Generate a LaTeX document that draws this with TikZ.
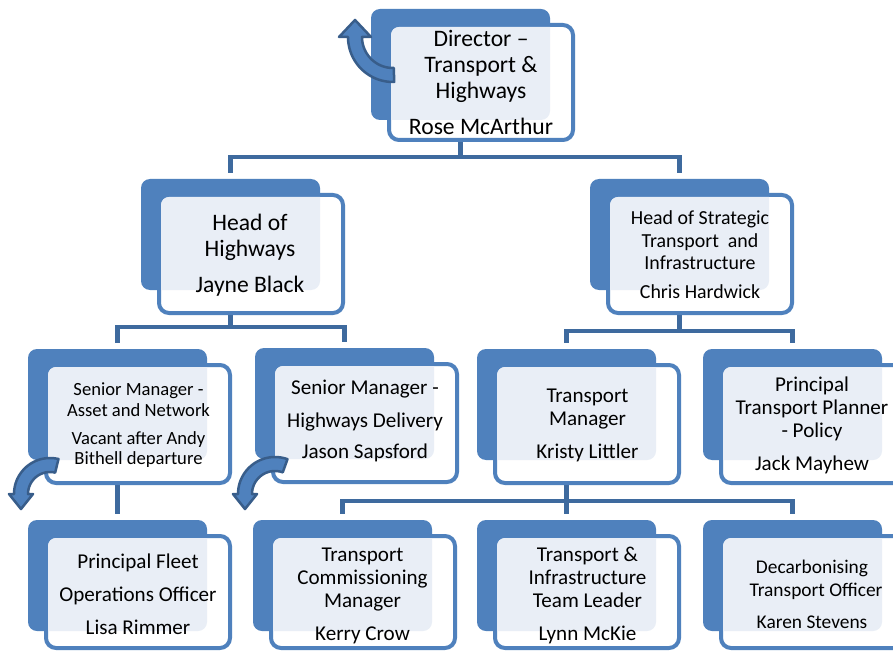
\documentclass[tikz,border=0pt]{standalone}
\usepackage{fontspec}
\setmainfont{Carlito}
\usetikzlibrary{calc,backgrounds}
\definecolor{bblue}{RGB}{79,129,189}
\definecolor{darkb}{RGB}{56,93,138}
\definecolor{connc}{RGB}{62,106,158}
\definecolor{lightc}{RGB}{233,238,246}
\newcommand\orgbox[4]{%
  \node[backbox] (#1b) at ({#2+89.5},{#3+55.5}) {};
  \node[frontbox, minimum height=#4pt] (#1) at ({#2+110},{#3+16+#4/2}) {};
  \begin{scope}
    \clip[rounded corners=9pt] (#2,#3) rectangle ({#2+179},{#3+111});
    \fill[lightc, rounded corners=8pt] ({#2+20},{#3+18}) rectangle ({#2+200},{#3+14+#4});
  \end{scope}}
\newcommand\carrow[8]{%
  \pgfmathsetmacro\myRo{#3+#6}%
  \pgfmathsetmacro\myRi{#3-#6}%
  \pgfmathsetmacro\myHo{#3+#7}%
  \pgfmathsetmacro\myHi{#3-#7}%
  \pgfmathsetmacro\myT{#5+90*sign(#5-#4)}%
  \filldraw[arrowst] plot[domain=#4:#5, samples=30] ({#1+\myRo*cos(\x)},{#2+\myRo*sin(\x)})
    -- ({#1+\myHo*cos(#5)},{#2+\myHo*sin(#5)})
    -- ({#1+#3*cos(#5)+#8*cos(\myT)},{#2+#3*sin(#5)+#8*sin(\myT)})
    -- ({#1+\myHi*cos(#5)},{#2+\myHi*sin(#5)})
    -- plot[domain=#5:#4, samples=30] ({#1+\myRi*cos(\x)},{#2+\myRi*sin(\x)})
    -- cycle;}
\begin{document}
\begin{tikzpicture}[x=1pt,y=-1pt,
  backbox/.style={fill=bblue, rounded corners=9pt, minimum width=179pt, minimum height=111pt, inner sep=0pt, outer sep=0pt},
  frontbox/.style={fill=white, draw=bblue, line width=4pt, rounded corners=10pt, minimum width=184pt, inner sep=0pt, outer sep=0pt},
  conn/.style={draw=connc, line width=4.5pt},
  arrowst/.style={fill=bblue, draw=darkb, line width=2.5pt, line join=round},
  tx/.style={anchor=base, inner sep=0pt, text=black},
  fA/.style={font=\fontsize{23.6}{28}\selectfont},
  fB/.style={font=\fontsize{21.1}{25}\selectfont},
  fC/.style={font=\fontsize{19.9}{24}\selectfont},
  fD/.style={font=\fontsize{18.6}{22}\selectfont},
  fE/.style={font=\fontsize{19.4}{23}\selectfont}]
\useasboundingbox (0,0) rectangle (893,652);
\clip (0,0) rectangle (893,652);
% boxes
\orgbox{dir}{371}{9}{115}
\orgbox{hoh}{141}{179}{118}
\orgbox{hos}{590}{179}{118}
\orgbox{ast}{28}{349}{118}
\orgbox{del}{255}{348}{118}
\orgbox{tm}{477}{349}{118}
\orgbox{ptp}{703}{349}{118}
\orgbox{pf}{28}{520}{112}
\orgbox{tc}{253}{520}{112}
\orgbox{ti}{477}{520}{112}
\orgbox{dec}{703}{520}{112}
% connectors
\coordinate (bus1) at (0,157);
\coordinate (bus2) at (0,327);
\coordinate (bus3) at (0,331);
\coordinate (bus4) at (0,501);
\begin{pgfonlayer}{background}
\fill[white] (0,0) rectangle (893,652);
\draw[conn] (dirb.south |- dir.center) -- (dirb.south |- bus1) -| ([yshift=6pt]hohb.north);
\draw[conn] (dirb.south |- bus1) -| ([yshift=6pt]hosb.north);
\draw[conn] (hohb.south |- hoh.center) -- (hohb.south |- bus2) -| ([yshift=6pt]astb.north);
\draw[conn] (hohb.south |- bus2) -| ([yshift=6pt]delb.north);
\draw[conn] (hosb.south |- hos.center) -- (hosb.south |- bus3) -| ([yshift=6pt]tmb.north);
\draw[conn] (hosb.south |- bus3) -| ([yshift=6pt]ptpb.north);
\draw[conn] (astb.south |- ast.center) -- ([yshift=6pt]pfb.north);
\draw[conn] (tmb.south |- tm.center) -- (tmb.south |- bus4) -| ([yshift=6pt]tcb.north);
\draw[conn] (tmb.south |- bus4) -| ([yshift=6pt]decb.north);
\draw[conn] (tmb.south |- bus4) -- ([yshift=6pt]tib.north);
\end{pgfonlayer}
% curved arrows
\carrow{393}{37}{38}{88.5}{180}{7}{16}{17}
\carrow{50}{494}{29}{283.6}{180}{7}{12}{15}
\carrow{275}{494}{30}{289.7}{180}{7}{12}{15}
% texts
\node[tx,fA] (d1) at (481,46.7) {Director –};
\node[tx,fA] (d2) at (481,72.7) {Transport \&};
\node[tx,fA] (d3) at (481,98.5) {Highways};
\node[tx,fA] (d4) at (481,135) {Rose McArthur};
\node[tx,fA] (h1) at (250,230) {Head of};
\node[tx,fA] (h2) at (250,256) {Highways};
\node[tx,fA] (h3) at (250,292.7) {Jayne Black};
\node[tx,fC] (s1) at (700,225) {Head of Strategic};
\node[tx,fC] (s2) at (700,247.3) {Transport\ \ and};
\node[tx,fC] (s3) at (700,269) {Infrastructure};
\node[tx,fC] (s4) at (700,298.3) {Chris Hardwick};
\node[tx,fD] (a1) at (138.5,395) {Senior Manager -};
\node[tx,fD] (a2) at (138.5,416) {Asset and Network};
\node[tx,fD] (a3) at (138.5,444) {Vacant after Andy};
\node[tx,fD] (a4) at (138.5,464) {Bithell departure};
\node[tx,fB] (e1) at (365,394.3) {Senior Manager -};
\node[tx,fB] (e2) at (365,427.3) {Highways Delivery};
\node[tx,fB] (e3) at (365,458.3) {Jason Sapsford};
\node[tx,fB] (m1) at (587.5,402.7) {Transport};
\node[tx,fB] (m2) at (587.5,425) {Manager};
\node[tx,fB] (m3) at (587.5,458.3) {Kristy Littler};
\node[tx,fB] (p1) at (812,391) {Principal};
\node[tx,fB] (p2) at (812,414) {Transport Planner};
\node[tx,fB] (p3) at (812,437.7) {- Policy};
\node[tx,fB] (p4) at (812,470) {Jack Mayhew};
\node[tx,fB] (f1) at (138,568.3) {Principal Fleet};
\node[tx,fB] (f2) at (138,601.7) {Operations Officer};
\node[tx,fB] (f3) at (138,634) {Lisa Rimmer};
\node[tx,fB] (c1) at (362.5,561) {Transport};
\node[tx,fB] (c2) at (362.5,584.3) {Commissioning};
\node[tx,fB] (c3) at (362.5,607.7) {Manager};
\node[tx,fB] (c4) at (362.5,640.7) {Kerry Crow};
\node[tx,fB] (i1) at (587.5,561) {Transport \&};
\node[tx,fB] (i2) at (587.5,584.3) {Infrastructure};
\node[tx,fB] (i3) at (587.5,607.7) {Team Leader};
\node[tx,fB] (i4) at (587.5,640.7) {Lynn McKie};
\node[tx,fE] (k1) at (812,573.3) {Decarbonising};
\node[tx,fE] (k2) at (816,596.7) {Transport Officer};
\node[tx,fE] (k3) at (812,628.3) {Karen Stevens};
\end{tikzpicture}
\end{document}
